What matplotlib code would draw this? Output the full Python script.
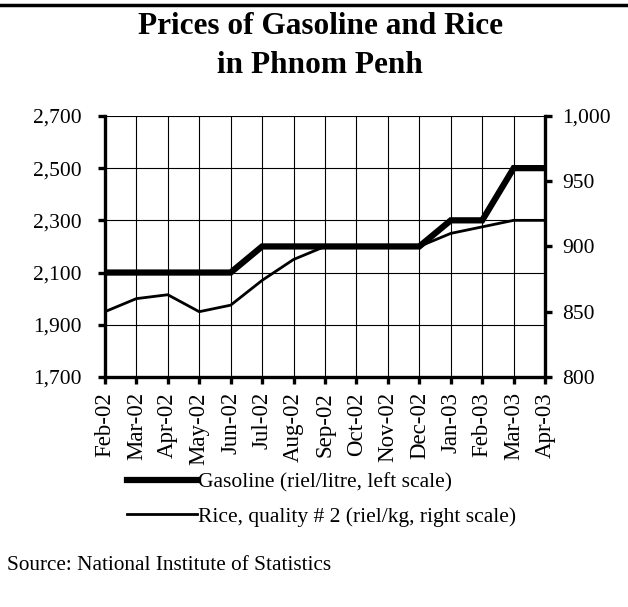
import matplotlib.pyplot as plt
from matplotlib.lines import Line2D

plt.rcParams['font.family'] = ['Liberation Serif', 'DejaVu Serif']

months = ['Feb-02', 'Mar-02', 'Apr-02', 'May-02', 'Jun-02', 'Jul-02', 'Aug-02',
          'Sep-02', 'Oct-02', 'Nov-02', 'Dec-02', 'Jan-03', 'Feb-03', 'Mar-03', 'Apr-03']
gasoline = [2100, 2100, 2100, 2100, 2100, 2200, 2200, 2200, 2200, 2200, 2200,
            2300, 2300, 2500, 2500]
rice = [850, 860, 863, 850, 855, 874, 890, 900, 900, 900, 900, 910, 915, 920, 920]

left_ticks = [1700, 1900, 2100, 2300, 2500, 2700]
right_ticks = [800, 850, 900, 950, 1000]

fig = plt.figure(figsize=(6.28, 6.07), dpi=100)
ax = fig.add_axes([0.167, 0.379, 0.701, 0.430])
ax2 = ax.twinx()

x = list(range(len(months)))
g_line, = ax.plot(x, gasoline, color='black', lw=4.5, solid_joinstyle='miter')
r_line, = ax2.plot(x, rice, color='black', lw=2.0)

ax.set_xlim(0, len(months) - 1)
ax.set_ylim(1700, 2700)
ax2.set_ylim(800, 1000)
ax.set_yticks(left_ticks)
ax.set_yticklabels([f'{v:,}' for v in left_ticks])
ax2.set_yticks(right_ticks)
ax2.set_yticklabels([f'{v:,}' for v in right_ticks])
ax.set_xticks(x)
ax.set_xticklabels(months, rotation=90)

ax.grid(True, color='black', lw=0.8)
ax.set_axisbelow(True)

for a in (ax, ax2):
    for s in a.spines.values():
        s.set_visible(False)
ax.spines['left'].set_visible(True)
ax.spines['bottom'].set_visible(True)
ax2.spines['right'].set_visible(True)
for s in (ax.spines['left'], ax.spines['bottom'], ax2.spines['right']):
    s.set_linewidth(2.4)

ax.tick_params(axis='x', direction='out', length=5, width=2.4, labelsize=16.5, pad=6)
ax.tick_params(axis='y', direction='out', length=5, width=2.4, labelsize=15.5, pad=12)
ax2.tick_params(axis='y', direction='out', length=5, width=2.4, labelsize=15.5, pad=7)

fig.text(0.51, 1 - 34 / 607, 'Prices of Gasoline and Rice', ha='center', va='baseline',
         fontsize=22.5, fontweight='bold')
fig.text(0.51, 1 - 73 / 607, 'in Phnom Penh', ha='center', va='baseline',
         fontsize=22.5, fontweight='bold')

fig.add_artist(Line2D([0, 1], [1 - 5 / 607, 1 - 5 / 607], color='black', lw=2.5,
                      transform=fig.transFigure))

fig.legend([g_line, r_line],
           ['Gasoline (riel/litre, left scale)', 'Rice, quality # 2 (riel/kg, right scale)'],
           loc='upper left', bbox_to_anchor=(127 / 628, 1 - 472 / 607), frameon=False,
           fontsize=15.5, handlelength=3.25, handletextpad=0.05, labelspacing=0.68,
           borderaxespad=0, borderpad=0)

fig.text(0.011, 1 - 565 / 607, 'Source: National Institute of Statistics', ha='left',
         va='center', fontsize=15.3)

fig.savefig('out.png', dpi=100)
